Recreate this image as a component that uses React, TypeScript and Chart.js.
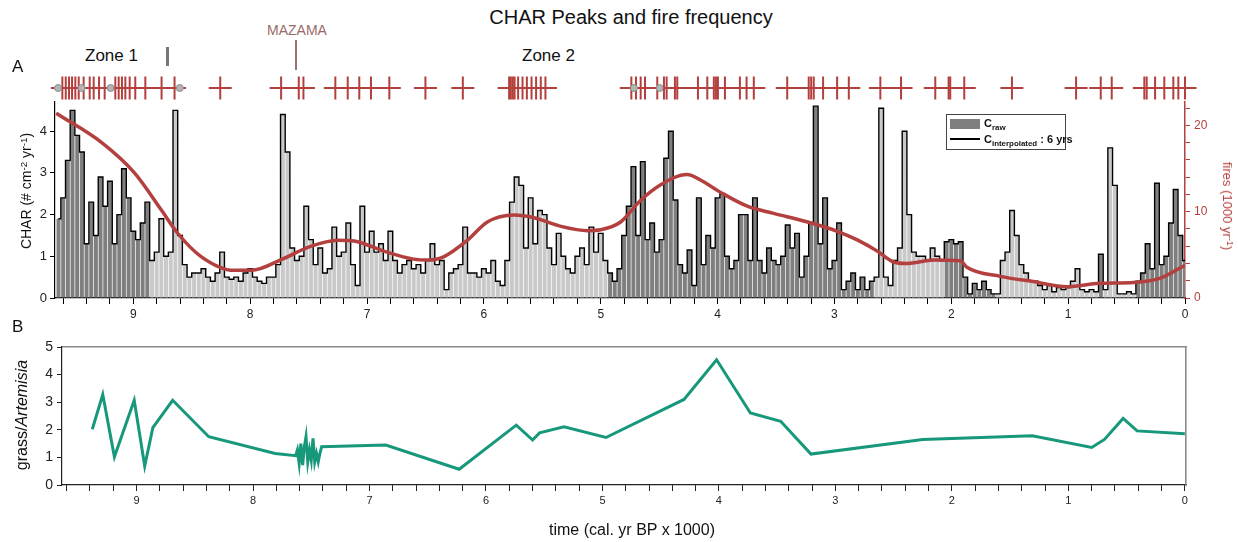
import React, { useEffect, useRef } from "react";
import { Chart, registerables } from "chart.js";

Chart.register(...registerables);

const FONT = '"Liberation Sans", Arial, Helvetica, sans-serif';
const RED = "#b3403e";
const TEAL = "#17987b";
const LIGHT_BAR = "#c9c9c9";
const DARK_BAR = "#7f7f7f";

// CHAR (# cm-2 yr-1), 40-yr bins, oldest (9.64 ka) -> youngest (0 ka)
const charStepKyr = 0.04;
const charValues = [
  // 9.64 - 9.00
  1.9, 2.4, 3.3, 4.5, 3.9, 3.5, 1.3, 2.3, 1.5, 2.9, 2.2, 2.8, 1.3, 2.0, 3.1, 2.4, 1.6,
  // 8.96 - 8.00
  1.4, 1.8, 2.3, 0.9, 1.1, 1.9, 1.0, 1.1, 4.5, 1.5, 0.8, 0.5, 0.6, 0.6, 0.7, 0.5, 0.4, 0.6, 1.1, 0.5, 0.45, 0.5, 0.4, 0.6, 0.7,
  // 7.96 - 7.00
  0.5, 0.4, 0.35, 0.5, 0.5, 0.8, 4.4, 3.5, 1.2, 0.9, 1.0, 2.2, 1.4, 0.8, 1.2, 0.6, 0.7, 1.7, 1.0, 1.1, 1.8, 0.8, 0.3, 2.2, 1.1,
  // 6.96 - 6.00
  1.6, 1.1, 1.3, 0.9, 1.6, 0.9, 0.6, 0.8, 0.9, 0.7, 0.8, 0.6, 0.9, 1.3, 0.8, 0.9, 0.2, 0.6, 0.7, 0.8, 1.7, 0.6, 0.6, 0.5, 0.7,
  // 5.96 - 5.00
  0.6, 0.9, 0.4, 0.3, 0.9, 2.3, 2.9, 2.7, 1.2, 2.4, 1.3, 2.1, 2.0, 1.2, 0.8, 1.55, 1.0, 0.7, 0.6, 1.0, 1.2, 0.8, 1.7, 1.1, 1.55,
  // 4.96 - 4.00
  0.9, 0.6, 0.4, 0.7, 1.5, 2.2, 3.15, 1.5, 3.27, 1.4, 1.8, 1.1, 1.4, 3.35, 4.0, 2.35, 0.8, 0.6, 1.15, 0.3, 2.4, 0.8, 1.5, 1.2, 2.4,
  // 3.96 - 3.00
  2.5, 1.0, 0.7, 0.9, 2.0, 2.0, 0.9, 2.4, 0.9, 0.6, 1.2, 0.9, 0.8, 1.0, 1.75, 1.2, 1.55, 0.5, 1.0, 1.8, 4.6, 1.3, 2.4, 0.7, 0.9,
  // 2.96 - 2.00
  1.8, 0.2, 0.4, 0.6, 0.2, 0.5, 0.2, 0.4, 0.5, 4.55, 0.5, 0.3, 0.9, 1.2, 4.0, 2.0, 1.1, 1.0, 1.0, 0.9, 1.2, 1.0, 0.9, 1.35, 1.4,
  // 1.96 - 1.00
  1.3, 1.35, 0.5, 0.1, 0.35, 0.2, 0.4, 0.2, 0.1, 0.1, 0.9, 1.1, 2.1, 1.5, 0.8, 0.6, 0.4, 0.4, 0.3, 0.2, 0.3, 0.15, 0.25, 0.2, 0.25,
  // 0.96 - 0.00
  0.4, 0.7, 0.2, 0.15, 0.2, 0.15, 1.05, 0.2, 3.6, 2.7, 0.1, 0.1, 0.15, 0.1, 0.4, 0.6, 1.3, 0.7, 2.75, 0.8, 1.0, 1.8, 2.6, 1.5, 0.9,
];
const charAges = charValues.map((_, i) => Number(((charValues.length - 1 - i) * charStepKyr).toFixed(2)));

// age ranges (ka) where raw bars are dark grey
const darkBarZones = [
  [9.7, 8.85],
  [4.93, 2.67],
  [2.04, 1.6],
  [0.74, 0.7],
  [0.4, -0.1],
];

// fire frequency (fires / 1000 yr)
const fireFreqAges = [9.66, 9.27, 8.99, 8.76, 8.62, 8.42, 8.14, 7.99, 7.71, 7.5, 7.25, 7.11, 6.85, 6.6, 6.48, 6.34, 6.14, 5.97, 5.74, 5.57, 5.34, 5.11, 5.0, 4.83, 4.66, 4.49, 4.26, 4.15, 3.97, 3.74, 3.52, 3.23, 2.97, 2.8, 2.63, 2.5, 2.38, 2.15, 1.92, 1.87, 1.58, 1.3, 1.01, 0.73, 0.44, 0.21, 0.0];
const fireFreqValues = [21.4, 18.0, 14.5, 10.2, 7.5, 4.8, 3.2, 3.2, 4.6, 5.9, 6.7, 6.6, 5.4, 4.5, 4.4, 4.8, 6.7, 8.8, 9.6, 9.3, 8.3, 7.8, 7.9, 8.8, 11.3, 13.1, 14.3, 13.7, 12.2, 10.6, 9.8, 8.8, 7.7, 6.7, 5.4, 4.2, 4.0, 4.4, 4.3, 3.6, 2.5, 1.9, 1.3, 1.7, 1.8, 2.3, 3.8];

// detected fire events (ka)
const fireEventAges = [
  9.607, 9.578, 9.55, 9.524, 9.496, 9.467, 9.425, 9.373, 9.339, 9.293, 9.245, 9.154, 9.125, 9.097, 9.068, 9.031, 8.983, 8.897, 8.758, 8.647,
  8.256, 7.735, 7.584, 7.544, 7.271, 7.165, 7.066, 6.966, 6.809, 6.5, 6.18,
  5.784, 5.769, 5.752, 5.737, 5.707, 5.669, 5.632, 5.592, 5.553, 5.513, 5.473,
  4.738, 4.698, 4.658, 4.621, 4.516, 4.459, 4.436, 4.365, 4.345, 4.168, 4.088, 4.032, 4.014, 3.997, 3.937, 3.809, 3.752, 3.69,
  3.404, 3.22, 3.199, 3.177, 3.097, 2.977, 2.877, 2.607, 2.43, 2.137, 2.023, 2.009, 1.889, 1.481,
  0.932, 0.721, 0.627, 0.348, 0.328, 0.256, 0.177, 0.1, 0.057, 0.0,
];
const datedSampleAges = [9.644, 9.442, 9.194, 8.602, 4.715, 4.496];

// grass / Artemisia ratio
const grassAges = [9.38, 9.29, 9.19, 9.02, 8.93, 8.86, 8.69, 8.38, 7.81, 7.634, 7.619, 7.604, 7.589, 7.574, 7.559, 7.545, 7.53, 7.515, 7.5, 7.485, 7.47, 7.455, 7.44, 7.426, 7.411, 6.86, 6.23, 5.74, 5.6, 5.54, 5.33, 4.97, 4.3, 4.02, 3.73, 3.47, 3.21, 2.25, 1.31, 0.8, 0.69, 0.53, 0.41, 0.0];
const grassValues = [2.02, 3.28, 1.02, 3.07, 0.69, 2.08, 3.07, 1.75, 1.14, 1.06, 1.27, 0.78, 1.5, 0.72, 1.39, 1.75, 0.84, 1.27, 0.9, 1.69, 0.84, 1.14, 0.84, 1.14, 1.39, 1.45, 0.57, 2.17, 1.63, 1.89, 2.11, 1.72, 3.1, 4.54, 2.61, 2.31, 1.12, 1.65, 1.78, 1.36, 1.65, 2.41, 1.96, 1.86];

const xMajorTicks = [0, 1, 2, 3, 4, 5, 6, 7, 8, 9];

const barColor = (age: number) =>
  darkBarZones.some(([a, b]) => age <= a && age > b) ? DARK_BAR : LIGHT_BAR;

const xLabel = (v: any) => {
  const r = Math.round(Number(v));
  return Math.abs(Number(v) - r) < 1e-6 && xMajorTicks.includes(r) ? String(r) : "";
};
const fitY = (w: number) => (s: any) => {
  s.width = w;
  s.paddingTop = 0;
  s.paddingBottom = 0;
};
const fitX = (h: number) => (s: any) => {
  s.height = h;
  s.paddingLeft = 0;
  s.paddingRight = 0;
};

const abs = (l: number, t: number, extra: any = {}): React.CSSProperties => ({
  position: "absolute",
  left: l,
  top: t,
  whiteSpace: "nowrap",
  ...extra,
});

export default function App() {
  const refE = useRef<HTMLCanvasElement>(null);
  const refA = useRef<HTMLCanvasElement>(null);
  const refB = useRef<HTMLCanvasElement>(null);

  useEffect(() => {
    Chart.defaults.font.family = FONT;
    const charPts = charAges.map((a, i) => ({ x: a, y: charValues[i] }));

    const chartA = new Chart(refA.current as HTMLCanvasElement, {
      type: "bar",
      data: {
        datasets: [
          {
            type: "line",
            data: fireFreqAges.map((a, i) => ({ x: a, y: fireFreqValues[i] })),
            yAxisID: "yFires",
            borderColor: RED,
            borderWidth: 3.5,
            pointRadius: 0,
            cubicInterpolationMode: "monotone",
            order: 0,
          } as any,
          {
            type: "line",
            data: charPts,
            yAxisID: "y",
            borderColor: "#000",
            borderWidth: 1.4,
            pointRadius: 0,
            stepped: "middle",
            order: 1,
          } as any,
          {
            type: "bar",
            data: charPts,
            yAxisID: "y",
            backgroundColor: charAges.map(barColor),
            borderWidth: 0,
            barPercentage: 0.85,
            categoryPercentage: 1,
            order: 2,
          } as any,
        ],
      },
      options: {
        responsive: false,
        animation: false,
        devicePixelRatio: 1,
        layout: { padding: { top: 2, left: 0, right: 0, bottom: 0 } },
        plugins: { legend: { display: false }, tooltip: { enabled: false } },
        scales: {
          x: {
            type: "linear",
            position: "bottom",
            offset: false,
            min: 0,
            max: 9.67,
            reverse: true,
            afterFit: fitX(32),
            ticks: { stepSize: 0.2, autoSkip: false, maxRotation: 0, includeBounds: false, callback: xLabel, font: { size: 12 }, color: "#222", padding: 3 },
            grid: { display: true, offset: false, drawOnChartArea: false, drawTicks: true, tickLength: 6, color: "#000" },
            border: { display: true, color: "#000", width: 1.2 },
          },
          y: {
            position: "left",
            min: 0,
            max: 4.7,
            afterFit: fitY(55),
            ticks: { stepSize: 1, includeBounds: false, font: { size: 13 }, color: "#222", padding: 3 },
            grid: { drawOnChartArea: false, tickLength: 5, color: "#000" },
            border: { color: "#000", width: 1.2 },
          },
          yFires: {
            position: "right",
            min: 0,
            max: 22.7,
            afterFit: fitY(53),
            ticks: {
              stepSize: 2,
              includeBounds: false,
              callback: (v: any) => (Number(v) % 10 === 0 ? String(v) : ""),
              color: RED,
              font: { size: 12 },
              padding: 4,
            },
            grid: { drawOnChartArea: false, tickLength: 5, color: RED },
            border: { color: RED, width: 1.5 },
          },
        },
      } as any,
    });

    const chartE = new Chart(refE.current as HTMLCanvasElement, {
      type: "scatter",
      data: {
        datasets: [
          {
            data: datedSampleAges.map((a) => ({ x: a, y: 0.5 })),
            pointStyle: "circle",
            pointRadius: 3.5,
            backgroundColor: "#b4b4b4",
            borderColor: "#8c8c8c",
            borderWidth: 1,
            order: 0,
            clip: false,
          } as any,
          {
            data: fireEventAges.map((a) => ({ x: a, y: 0.5 })),
            pointStyle: "cross",
            pointRadius: 11.5,
            borderColor: RED,
            backgroundColor: RED,
            borderWidth: 2,
            order: 1,
            clip: false,
          } as any,
        ],
      },
      options: {
        responsive: false,
        animation: false,
        devicePixelRatio: 1,
        layout: { padding: { left: 55, right: 53, top: 0, bottom: 0 } },
        plugins: { legend: { display: false }, tooltip: { enabled: false } },
        scales: {
          x: { type: "linear", min: 0, max: 9.67, reverse: true, display: false },
          y: { min: 0, max: 1, display: false },
        },
      } as any,
    });

    const chartB = new Chart(refB.current as HTMLCanvasElement, {
      type: "line",
      data: {
        datasets: [
          {
            data: grassAges.map((a, i) => ({ x: a, y: grassValues[i] })),
            borderColor: TEAL,
            borderWidth: 3,
            pointRadius: 0,
            tension: 0,
            borderJoinStyle: "miter",
          } as any,
        ],
      },
      options: {
        responsive: false,
        animation: false,
        devicePixelRatio: 1,
        layout: { padding: 0 },
        plugins: { legend: { display: false }, tooltip: { enabled: false } },
        scales: {
          x: {
            type: "linear",
            position: "bottom",
            min: -0.01,
            max: 9.64,
            reverse: true,
            afterFit: fitX(57),
            ticks: { stepSize: 0.2, autoSkip: false, maxRotation: 0, includeBounds: false, callback: xLabel, font: { size: 11 }, color: "#222", padding: 3 },
            grid: { display: true, drawOnChartArea: false, drawTicks: true, tickLength: 6, color: "#222" },
            border: { display: true, color: "#222", width: 1.2 },
          },
          xTop: {
            type: "linear",
            position: "top",
            min: -0.01,
            max: 9.64,
            reverse: true,
            afterFit: fitX(17),
            ticks: { display: false },
            grid: { display: false },
            border: { display: true, color: "#8a8a8a", width: 1.6 },
          },
          y: {
            position: "left",
            min: 0,
            max: 5,
            afterFit: fitY(62),
            ticks: { stepSize: 1, font: { size: 14 }, color: "#222", padding: 4 },
            grid: { drawOnChartArea: false, tickLength: 5, color: "#222" },
            border: { color: "#222", width: 1.2 },
          },
          yRight: {
            position: "right",
            min: 0,
            max: 5,
            afterFit: fitY(52),
            ticks: { display: false },
            grid: { display: false },
            border: { display: true, color: "#8a8a8a", width: 1.6 },
          },
        },
      } as any,
    });

    return () => {
      chartA.destroy();
      chartE.destroy();
      chartB.destroy();
    };
  }, []);

  const sup: React.CSSProperties = { fontSize: "0.7em", verticalAlign: "0.45em", lineHeight: 0 };
  const sub: React.CSSProperties = { fontSize: "0.72em", verticalAlign: "-0.35em", lineHeight: 0 };

  return (
    <div style={{ position: "absolute", left: 0, top: 0, width: 1238, height: 542, background: "#fff", fontFamily: FONT, color: "#111", overflow: "hidden" }}>
      <canvas ref={refA} width={1238} height={230} style={{ position: "absolute", left: 0, top: 100, width: 1238, height: 230 }} />
      <canvas ref={refE} width={1238} height={28} style={{ position: "absolute", left: 0, top: 74, width: 1238, height: 28 }} />
      <canvas ref={refB} width={1238} height={212} style={{ position: "absolute", left: 0, top: 330, width: 1238, height: 212 }} />

      <div style={abs(331, 5, { width: 600, textAlign: "center", fontSize: 20, lineHeight: "24px" })}>CHAR Peaks and fire frequency</div>
      <div style={abs(12, 57, { fontSize: 17, lineHeight: "20px" })}>A</div>
      <div style={abs(12, 317, { fontSize: 17, lineHeight: "20px" })}>B</div>
      <div style={abs(85, 46, { fontSize: 17, lineHeight: "20px" })}>Zone 1</div>
      <div style={abs(166, 47, { width: 3, height: 19, background: "#777" })} />
      <div style={abs(267, 22, { fontSize: 14, lineHeight: "16px", color: "#9a6a6a" })}>MAZAMA</div>
      <div style={abs(295, 40, { width: 2, height: 30, background: "#9a7070" })} />
      <div style={abs(522, 46, { fontSize: 17, lineHeight: "20px" })}>Zone 2</div>

      {/* legend */}
      <div style={abs(946, 114, { width: 118, height: 34, border: "1px solid #444", background: "#fff" })}>
        <div style={abs(3, 4, { width: 30, height: 10, background: DARK_BAR })} />
        <div style={abs(37, 1, { fontSize: 11, fontWeight: 600, lineHeight: "14px" })}>
          C<span style={sub}>raw</span>
        </div>
        <div style={abs(3, 23, { width: 30, height: 2, background: "#000" })} />
        <div style={abs(37, 17, { fontSize: 11, fontWeight: 600, lineHeight: "14px" })}>
          C<span style={sub}>interpolated</span> : 6 yrs
        </div>
      </div>

      {/* axis titles */}
      <div style={abs(26, 191, { transform: "translate(-50%,-50%) rotate(-90deg)", fontSize: 14, lineHeight: "16px" })}>
        CHAR (# cm<span style={sup}>-2</span> yr<span style={sup}>-1</span>)
      </div>
      <div style={abs(1227, 206, { transform: "translate(-50%,-50%) rotate(90deg)", fontSize: 13, lineHeight: "16px", color: RED })}>
        fires (1000 yr<span style={sup}>-1</span>)
      </div>
      <div style={abs(22, 415, { transform: "translate(-50%,-50%) rotate(-90deg)", fontSize: 16, lineHeight: "18px" })}>
        grass/<i>Artemisia</i>
      </div>
      <div style={abs(632, 530, { transform: "translate(-50%,-50%)", fontSize: 16, lineHeight: "18px" })}>time (cal. yr BP x 1000)</div>
    </div>
  );
}
